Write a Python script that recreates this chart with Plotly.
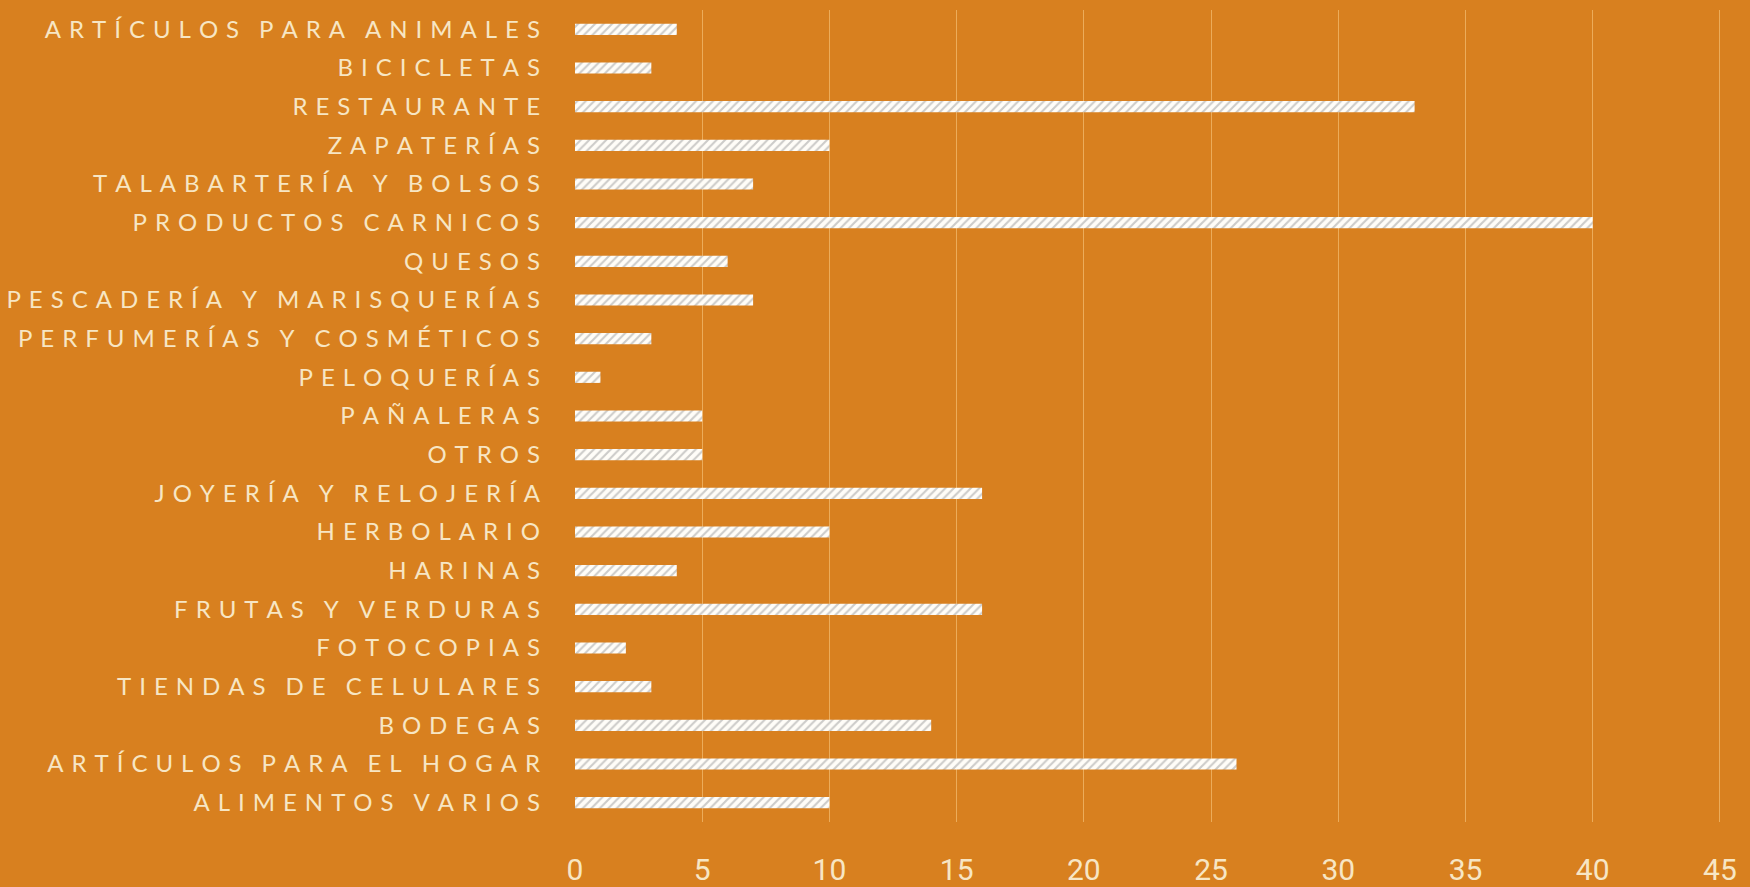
import plotly.graph_objects as go

categories = [
    "ARTÍCULOS PARA ANIMALES", "BICICLETAS", "RESTAURANTE", "ZAPATERÍAS",
    "TALABARTERÍA Y BOLSOS", "PRODUCTOS CARNICOS", "QUESOS",
    "PESCADERÍA Y MARISQUERÍAS", "PERFUMERÍAS Y COSMÉTICOS", "PELOQUERÍAS",
    "PAÑALERAS", "OTROS", "JOYERÍA Y RELOJERÍA", "HERBOLARIO", "HARINAS",
    "FRUTAS Y VERDURAS", "FOTOCOPIAS", "TIENDAS DE CELULARES", "BODEGAS",
    "ARTÍCULOS PARA EL HOGAR", "ALIMENTOS VARIOS",
]
values = [4, 3, 33, 10, 7, 40, 6, 7, 3, 1, 5, 5, 16, 10, 4, 16, 2, 3, 14, 26, 10]
x_ticks = [0, 5, 10, 15, 20, 25, 30, 35, 40, 45]

BG = "#D8801F"
TXT = "#F7E6C4"


def spaced(s):
    # emulate letter-spacing with unicode spaces
    words = s.split(" ")
    return "\u2002\u2004".join("\u2004".join(list(w)) for w in words)


fig = go.Figure()
fig.add_trace(go.Bar(
    x=values,
    y=categories,
    orientation="h",
    marker=dict(
        color="#FFFDF8",
        line=dict(width=0),
        pattern=dict(shape="/", fgcolor="#999999", bgcolor="#FFFDF8",
                     size=6, solidity=0.35, fillmode="overlay"),
    ),
    width=0.29,
    hoverinfo="x+y",
))

fig.update_layout(
    width=1750, height=887,
    margin=dict(l=575, r=25, t=10, b=65),
    paper_bgcolor=BG, plot_bgcolor=BG,
    showlegend=False,
    xaxis=dict(
        range=[0, 45.2], tickvals=x_ticks, ticktext=[str(v) for v in x_ticks],
        showgrid=True, gridcolor="rgba(255,215,150,0.5)", gridwidth=1.2,
        zeroline=False, showline=False, ticks="", automargin=False,
        tickfont=dict(family="Roboto, Liberation Sans, sans-serif",
                      size=30, color=TXT),
        ticklabelstandoff=27,
    ),
    yaxis=dict(
        range=[20.5, -0.5], tickvals=categories,
        ticktext=[spaced(c) for c in categories],
        showgrid=False, zeroline=False, showline=False, ticks="", automargin=False,
        tickfont=dict(family="Lato, Roboto, sans-serif", size=24, color=TXT),
        ticklabelstandoff=34,
    ),
)

fig.write_html("out.html")
